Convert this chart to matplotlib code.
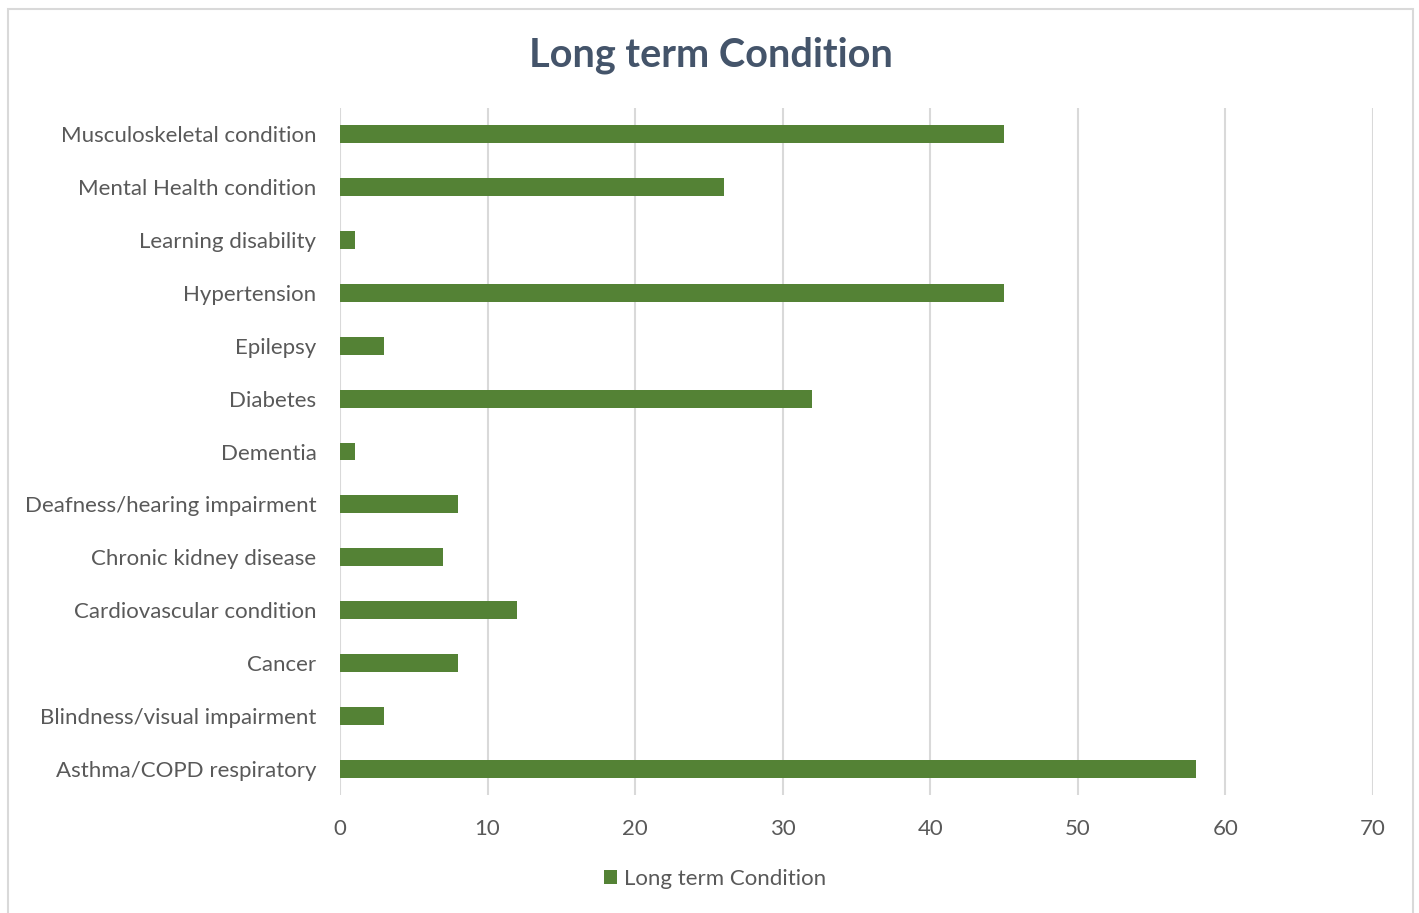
import matplotlib
matplotlib.use("Agg")
import matplotlib.pyplot as plt
from matplotlib.patches import Rectangle

categories = [
    "Musculoskeletal condition",
    "Mental Health condition",
    "Learning disability",
    "Hypertension",
    "Epilepsy",
    "Diabetes",
    "Dementia",
    "Deafness/hearing impairment",
    "Chronic kidney disease",
    "Cardiovascular condition",
    "Cancer",
    "Blindness/visual impairment",
    "Asthma/COPD respiratory",
]
values = [45, 26, 1, 45, 3, 32, 1, 8, 7, 12, 8, 3, 58]
x_ticks = [0, 10, 20, 30, 40, 50, 60, 70]

BAR_COLOR = "#548235"
TEXT_COLOR = "#595959"
GRID_COLOR = "#D9D9D9"

plt.rcParams["font.family"] = ["Lato", "DejaVu Sans"]

W, H = 1419, 913
fig = plt.figure(figsize=(W / 100, H / 100), dpi=100)
ax = fig.add_axes([340 / W, 1 - 795 / H, (1373 - 340) / W, (795 - 108) / H])

# outer chart border
fig.patches.append(Rectangle((8 / W, -0.05), (1413 - 8) / W, 1 - 9 / H + 0.05,
                             transform=fig.transFigure, fill=False,
                             edgecolor=GRID_COLOR, linewidth=1.5))

pos = list(range(len(categories)))[::-1]
ax.barh(pos, values, height=0.34, color=BAR_COLOR, label="Long term Condition", zorder=3)

ax.set_xlim(0, 70)
ax.set_ylim(-0.5, len(categories) - 0.5)
ax.set_xticks(x_ticks)
ax.set_yticks(pos)
ax.set_yticklabels(categories)
ax.xaxis.grid(True, color=GRID_COLOR, linewidth=1.5, zorder=0)
for s in ax.spines.values():
    s.set_visible(False)
ax.tick_params(axis="both", length=0, labelsize=16, labelcolor=TEXT_COLOR)
ax.tick_params(axis="y", pad=17)
ax.tick_params(axis="x", pad=17)

fig.suptitle("Long term Condition", x=711 / W, y=1 - 55 / H, va="center",
             fontsize=28.5, fontweight="bold", color="#44546A")

fig.legend(loc="center", bbox_to_anchor=(715 / W, 1 - 879 / H), frameon=False,
           fontsize=16, labelcolor=TEXT_COLOR, handlelength=0.6, handleheight=0.6,
           handletextpad=0.3)

fig.savefig("out.png", dpi=100)
